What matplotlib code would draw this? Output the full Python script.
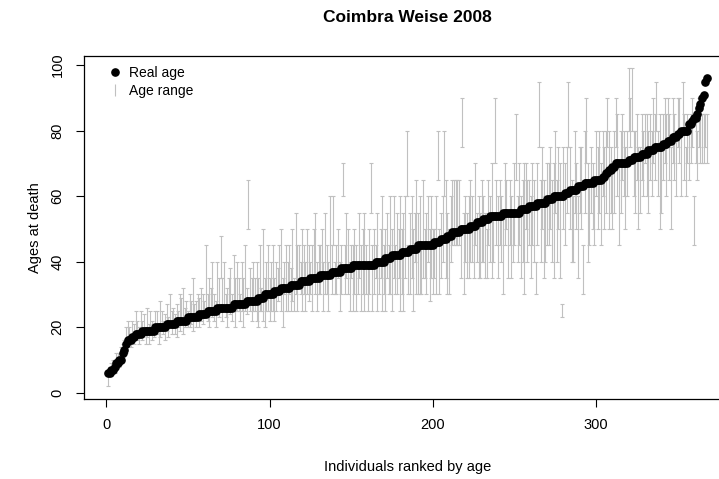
import numpy as np
import matplotlib
matplotlib.use("Agg")
import matplotlib.pyplot as plt
from matplotlib.lines import Line2D

plt.rcParams['font.family'] = ['Liberation Sans', 'DejaVu Sans']

# ==========================================
# DATA
# ==========================================
TITLE = "Coimbra Weise 2008"
X_LABEL = "Individuals ranked by age"
Y_LABEL = "Ages at death"
X_TICKS = [0, 100, 200, 300]
Y_TICKS = [0, 20, 40, 60, 80, 100]

# real ages (sorted) as value / how many individuals share it
age_values = [6, 7, 8, 9, 10, 12, 13, 15,
              16, 17, 18, 19, 20, 21, 22, 23, 24, 25, 26, 27, 28, 29, 30,
              31, 32, 33, 34, 35, 36, 37, 38, 39, 40, 41, 42, 43, 44, 45,
              46, 47, 48, 49, 50, 51, 52, 53, 54, 55, 56, 57, 58, 59, 60,
              61, 62, 63, 64, 65, 66, 67, 68, 69, 70, 71, 72, 73, 74, 75,
              76, 77, 78, 79, 80, 82, 83, 84, 85, 87, 88, 90, 91, 95, 96]
age_counts = [2, 2, 1, 2, 2, 1, 1, 1,
              3, 2, 4, 8, 7, 6, 7, 7, 5, 6, 10, 8, 7, 4, 6,
              4, 6, 6, 6, 6, 7, 6, 7, 14, 6, 4, 6, 5, 5, 10,
              4, 4, 3, 5, 6, 4, 4, 4, 8, 11, 5, 5, 6, 4, 7,
              3, 5, 4, 6, 5, 2, 2, 2, 2, 8, 3, 5, 4, 4, 5,
              3, 3, 3, 2, 5, 2, 1, 2, 1, 1, 1, 1, 1, 1, 1]

# estimated age range per individual (lower / upper bound), same order
range_low = [
    2, 5, 6, 7, 6, 8, 9, 8, 10, 11,
    12, 12, 15, 15, 14, 16, 15, 17, 16, 15,
    17, 16, 18, 15, 17, 15, 18, 16, 17, 20,
    18, 15, 17, 20, 18, 16, 19, 17, 20, 18,
    20, 18, 17, 20, 19, 21, 18, 20, 22, 20,
    20, 21, 19, 22, 20, 25, 20, 22, 21, 23,
    25, 22, 20, 25, 23, 22, 20, 25, 23, 35,
    22, 25, 23, 20, 25, 24, 22, 25, 20, 25,
    25, 22, 25, 20, 25, 24, 50, 25, 22, 25,
    25, 22, 20, 25, 25, 22, 20, 25, 25, 22,
    25, 25, 22, 25, 28, 30, 25, 20, 30, 25,
    25, 30, 25, 28, 25, 30, 25, 35, 30, 25,
    30, 25, 30, 28, 30, 25, 35, 30, 25, 30,
    30, 35, 25, 30, 30, 25, 35, 30, 45, 30,
    30, 35, 25, 30, 60, 30, 35, 30, 25, 35,
    25, 30, 25, 30, 35, 25, 30, 25, 30, 25,
    30, 55, 25, 30, 35, 25, 30, 35, 25, 30,
    25, 35, 30, 30, 25, 35, 30, 30, 35, 25,
    30, 25, 35, 60, 30, 30, 35, 25, 40, 30,
    30, 30, 30, 35, 35, 30, 40, 28, 35, 30,
    35, 30, 65, 30, 35, 40, 60, 35, 30, 30,
    40, 45, 45, 45, 45, 45, 35, 75, 30, 40,
    35, 35, 40, 40, 35, 45, 40, 35, 35, 40,
    40, 35, 35, 45, 40, 35, 40, 70, 45, 35,
    45, 40, 30, 45, 50, 35, 45, 35, 40, 45,
    65, 40, 45, 35, 40, 30, 50, 40, 45, 35,
    45, 40, 30, 45, 75, 40, 50, 35, 40, 45,
    45, 50, 40, 35, 55, 40, 50, 35, 23, 50,
    45, 55, 75, 50, 40, 40, 55, 50, 35, 55,
    50, 30, 55, 70, 40, 45, 55, 50, 45, 60,
    50, 55, 45, 60, 50, 55, 75, 50, 55, 50,
    55, 75, 60, 45, 55, 65, 60, 50, 60, 80,
    75, 80, 60, 55, 65, 50, 55, 65, 60, 70,
    60, 55, 65, 60, 70, 65, 80, 60, 50, 55,
    65, 70, 60, 75, 65, 50, 70, 65, 60, 75,
    70, 60, 80, 65, 60, 70, 65, 70, 75, 45,
    70, 65, 75, 70, 70, 70, 75, 70,
]
range_high = [
    6, 8, 9, 10, 10, 12, 12, 12, 14, 15,
    16, 20, 22, 20, 18, 22, 21, 25, 22, 20,
    25, 22, 24, 20, 26, 21, 25, 22, 20, 25,
    25, 20, 28, 25, 22, 24, 27, 23, 30, 25,
    26, 24, 27, 25, 30, 29, 32, 26, 28, 25,
    30, 28, 35, 27, 28, 30, 29, 32, 30, 28,
    45, 30, 35, 32, 40, 30, 28, 40, 35, 48,
    35, 40, 30, 32, 35, 38, 30, 42, 35, 40,
    35, 30, 40, 35, 45, 32, 65, 38, 35, 40,
    35, 40, 35, 45, 32, 50, 35, 40, 45, 35,
    40, 45, 35, 40, 38, 45, 50, 35, 40, 45,
    40, 45, 38, 50, 35, 55, 45, 45, 40, 50,
    45, 40, 50, 45, 40, 45, 50, 55, 40, 45,
    45, 50, 40, 55, 45, 40, 60, 45, 60, 40,
    45, 50, 40, 45, 70, 45, 55, 50, 40, 45,
    45, 50, 45, 40, 55, 45, 50, 55, 45, 40,
    50, 70, 45, 50, 45, 55, 40, 50, 60, 45,
    50, 55, 45, 60, 50, 60, 45, 55, 50, 60,
    50, 55, 60, 80, 45, 55, 60, 50, 55, 65,
    55, 60, 45, 65, 50, 55, 60, 50, 60, 50,
    50, 60, 80, 50, 55, 60, 80, 65, 55, 50,
    60, 65, 65, 65, 65, 65, 50, 90, 55, 60,
    55, 60, 65, 60, 50, 70, 55, 60, 55, 65,
    60, 55, 50, 65, 60, 70, 55, 90, 65, 60,
    65, 60, 55, 70, 65, 55, 65, 60, 55, 70,
    85, 60, 70, 60, 65, 70, 70, 65, 65, 60,
    70, 65, 40, 70, 95, 65, 75, 65, 60, 70,
    70, 75, 65, 70, 80, 65, 75, 70, 27, 75,
    70, 75, 95, 75, 65, 60, 80, 70, 60, 75,
    75, 45, 80, 90, 70, 65, 75, 70, 65, 80,
    75, 80, 70, 80, 75, 80, 90, 80, 75, 70,
    80, 90, 85, 70, 80, 85, 80, 75, 80, 99,
    90, 99, 80, 80, 85, 75, 75, 85, 80, 85,
    85, 80, 85, 80, 90, 85, 95, 80, 85, 75,
    85, 90, 85, 90, 85, 75, 90, 85, 80, 90,
    90, 80, 95, 85, 75, 85, 80, 85, 90, 60,
    85, 80, 90, 85, 85, 85, 85, 85,
]

real_age = np.repeat(age_values, age_counts)
rank = np.arange(1, len(real_age) + 1)

# ==========================================
# PLOT
# ==========================================
fig = plt.figure(figsize=(7.19, 4.79), dpi=100)
# the right edge of the original plot box falls outside the picture
ax = fig.add_axes([84 / 719, 80 / 479, 647 / 719, 343 / 479])

gray = '#c0c0c0'
ax.vlines(rank, range_low, range_high, color=gray, lw=0.8, zorder=2)
ax.plot(rank, range_low, ls='none', marker='_', ms=2.2, mew=0.8, color=gray, zorder=2)
ax.plot(rank, range_high, ls='none', marker='_', ms=2.2, mew=0.8, color=gray, zorder=2)
ax.plot(rank, real_age, ls='none', marker='o', ms=5.2, color='black', zorder=3)

ax.set_xlim(-13.7, 382.7)
ax.set_ylim(-1.9, 102.8)
ax.set_xticks(X_TICKS)
ax.set_yticks(Y_TICKS)
ax.tick_params(direction='out', length=6, width=0.8, labelsize=10.5, pad=8)
for lab in ax.get_yticklabels():
    lab.set_rotation(90)
    lab.set_va('center')
for sp in ax.spines.values():
    sp.set_linewidth(0.9)

ax.set_xlabel(X_LABEL, fontsize=10.5, labelpad=20)
ax.set_ylabel(Y_LABEL, fontsize=10.5, labelpad=6)
fig.text(407 / 719, 1 - 18 / 479, TITLE, ha='center', va='center',
         fontsize=12.5, fontweight='bold')

handles = [Line2D([], [], ls='none', marker='o', ms=5.2, color='black'),
           Line2D([], [], ls='none', marker='|', ms=9, mew=0.8, color=gray)]
ax.legend(handles, ['Real age', 'Age range'], loc='upper left', frameon=False,
          fontsize=10, handlelength=1.0, handletextpad=0.5, labelspacing=0.3,
          borderaxespad=0.3, bbox_to_anchor=(0.022, 1.0))

fig.savefig('out.png', dpi=100)
